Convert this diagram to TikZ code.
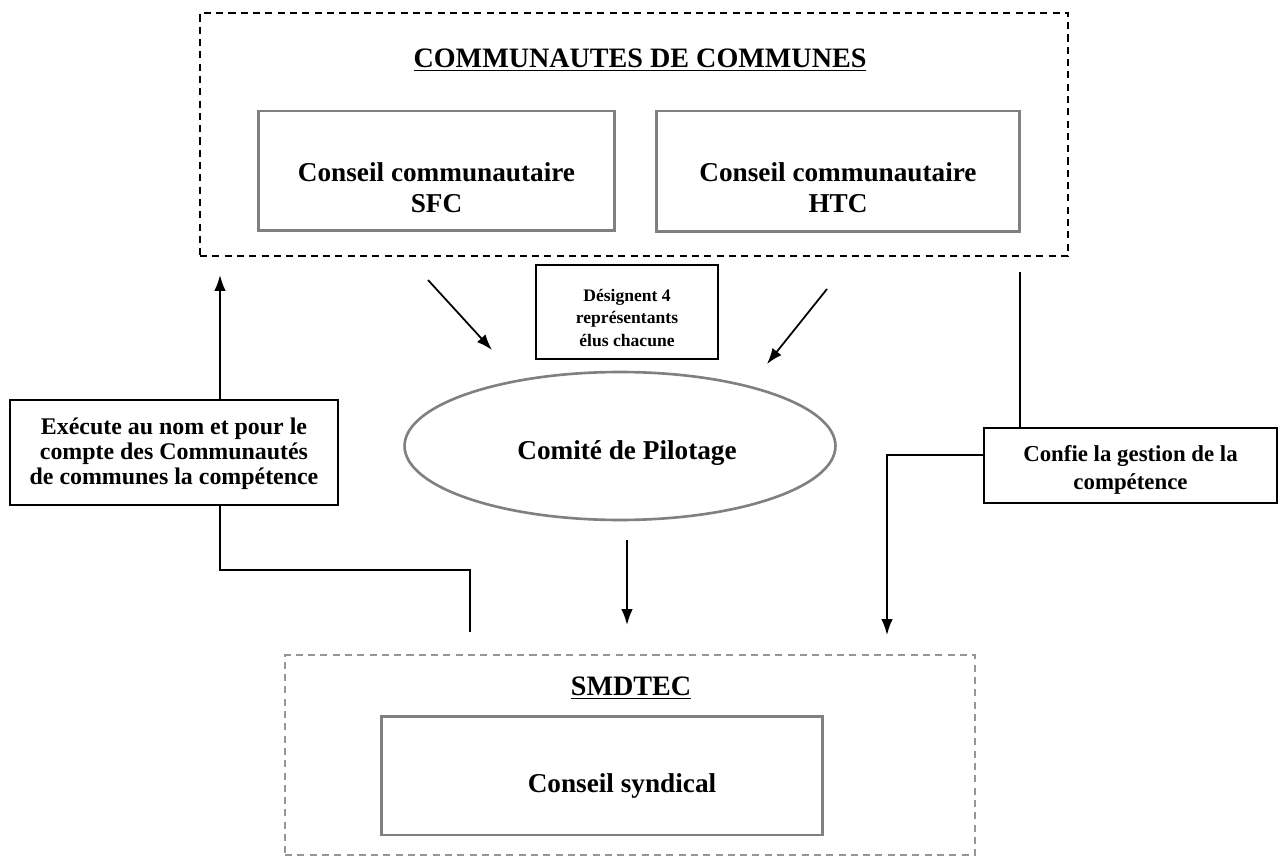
\documentclass[tikz,border=0pt]{standalone}
\usepackage{fontspec}
\setmainfont{Liberation Serif}
\usepackage{tikz}
\usetikzlibrary{shapes.geometric,arrows.meta}
\definecolor{boxgray}{RGB}{128,128,128}
\definecolor{lightgray}{RGB}{150,150,150}
\tikzset{
	groupbox/.style={draw, dashed, line width=1.1pt, dash pattern=on 4pt off 3pt},
	councilbox/.style={draw=boxgray, line width=1.7pt},
	councillabel/.style={align=center, font=\bfseries\fontsize{15.5}{17.5}\selectfont},
	notebox/.style={draw, line width=1pt},
	notelabel/.style={align=center, font=\bfseries\fontsize{10}{12.7}\selectfont},
	link/.style={line width=1pt},
	arr/.style={line width=1pt, -{Latex[length=9pt,width=6.5pt]}}
}

\begin{document}
\begin{tikzpicture}[x=0.02cm,y=-0.02cm]
		\useasboundingbox (0,0) rectangle (1280,857);
		\begin{scope}
			% communautes de communes
			\node[groupbox, minimum width=17.36cm, minimum height=4.86cm] (cc) at (634,134.5) {};
			\node (cctitle) at (640,60) {\bfseries\fontsize{16}{18}\selectfont\underline{COMMUNAUTES DE COMMUNES}};
			\node[councilbox, minimum width=7.14cm, minimum height=2.4cm] (sfc) at (436.5,171) {};
			\node[councilbox, minimum width=7.28cm, minimum height=2.42cm] (htc) at (838,171.5) {};
			\node[councillabel] (sfctext) at (436.5,188) {Conseil communautaire\\SFC};
			\node[councillabel] (htctext) at (838,188) {Conseil communautaire\\HTC};
	
			% comite
			\node[notebox, minimum width=3.64cm, minimum height=1.88cm] (design) at (627,312) {};
			\node[notelabel] (designtext) at (627,318) {Désignent 4\\représentants\\élus chacune};
			\node[ellipse, draw=boxgray, line width=1.5pt, minimum width=8.62cm, minimum height=2.96cm] (copil) at (620,446) {};
			\node[councillabel] (copiltext) at (627,453) {Comité de Pilotage};
			\coordinate (d1) at (428,280);
			\coordinate (d2) at (492,350);
			\coordinate (d3) at (827,289);
			\coordinate (d4) at (767,364);
			\draw[arr] (d1) to (d2);
			\draw[arr] (d3) to (d4);
		
			% cotes
			\node[notebox, minimum width=6.56cm, minimum height=2.1cm] (exec) at (174,452.5) {};
			\node[notelabel, font=\bfseries\fontsize{13.6}{14.2}\selectfont] (exectext) at (174,453.5) {Exécute au nom et pour le\\compte des Communautés\\de communes la compétence};
			\node[notebox, minimum width=5.86cm, minimum height=1.5cm] (confie) at (1130.5,465.5) {};
			\node[notelabel, font=\bfseries\fontsize{13}{16.3}\selectfont] (confietext) at (1130.5,470) {Confie la gestion de la\\compétence};
	
			% smdtec
			\node[groupbox, draw=lightgray, minimum width=13.8cm, minimum height=4cm] (smd) at (630,755) {};
			\node (smdtitle) at (631,688) {\bfseries\fontsize{16}{18}\selectfont\underline{SMDTEC}};
			\node[councilbox, minimum width=8.84cm, minimum height=2.38cm] (syndic) at (602,775.5) {};
			\node[councillabel] (syndictext) at (622,786) {Conseil syndical};
	
			\coordinate (up) at (220,275);
			\coordinate (e1) at (220,570);
			\coordinate (e2) at (470,570);
			\coordinate (e3) at (470,632);
			\draw[arr] (exec.north -| up) to (up);
			\draw[link] (exec.south -| e1) -- (e1) -- (e2) -- (e3);
		
			\coordinate (c0) at (1020,272);
			\coordinate (c1) at (887,455);
			\coordinate (c2) at (887,635);
			\draw[link] (c0) to (confie.north -| c0);
			\draw[arr] (confie.west |- c1) -- (c1) -- (c2);
			\coordinate (p1) at (627,540);
			\coordinate (p2) at (627,625);
			\draw[arr] (p1) to (p2);
		\end{scope}
	\end{tikzpicture}
\end{document}
